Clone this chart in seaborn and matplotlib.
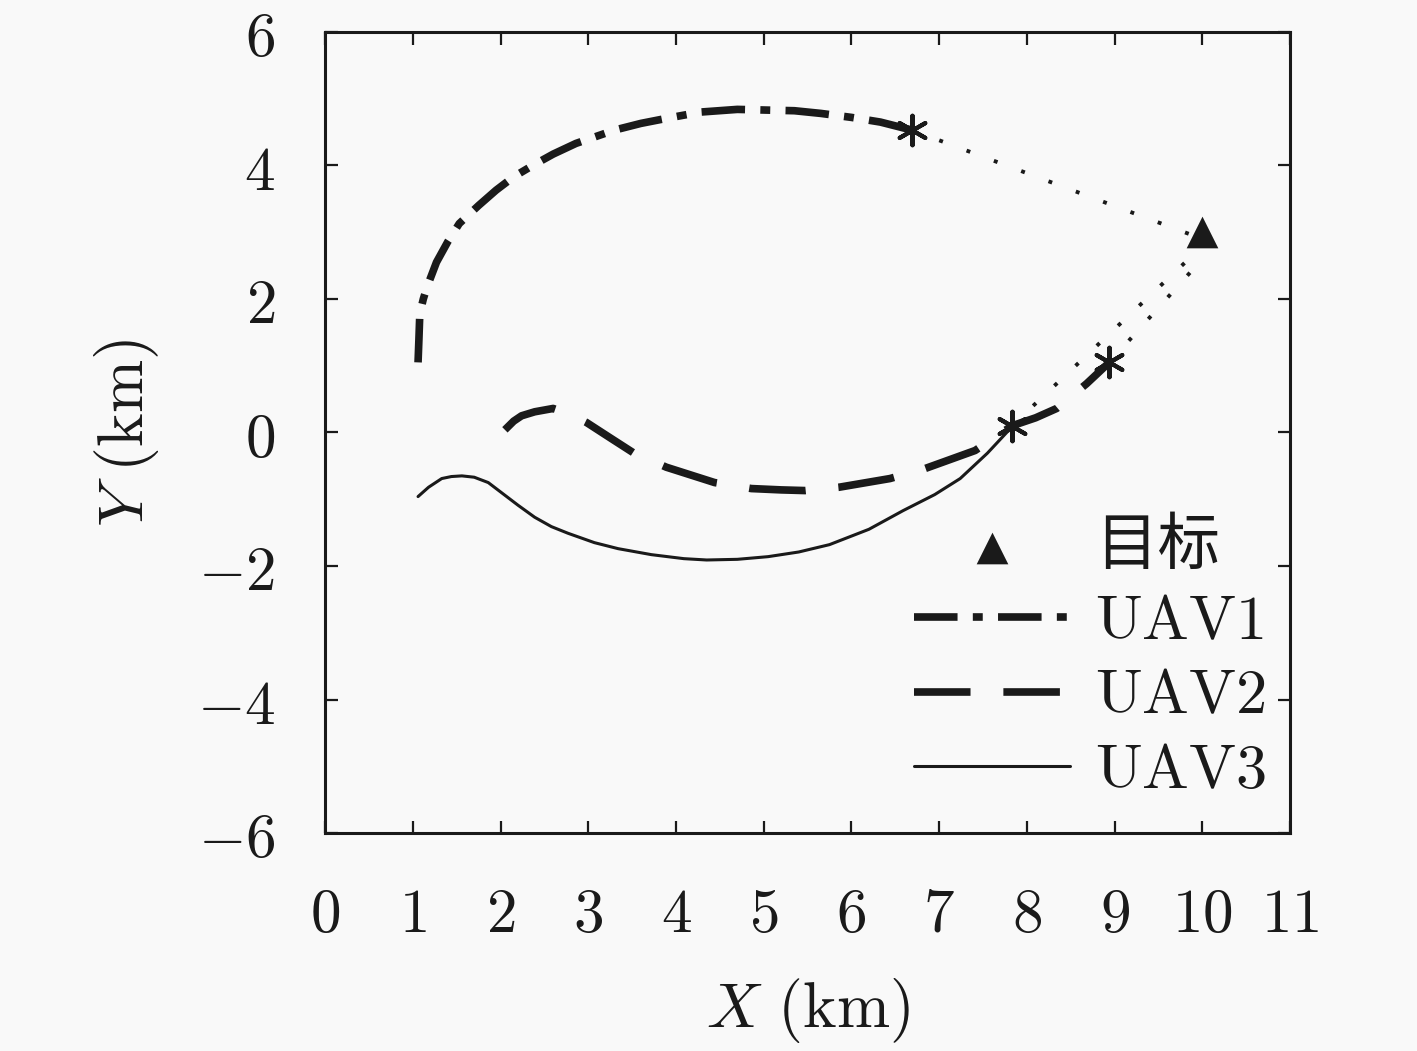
import numpy as np
import pandas as pd
import seaborn as sns
import matplotlib.pyplot as plt

# trajectories (km)
uav1_x = [1.06, 1.07, 1.08, 1.12, 1.16, 1.27, 1.40, 1.53, 1.75, 1.95, 2.15, 2.38, 2.60, 2.86,
          3.30, 3.60, 3.91, 4.28, 4.70, 5.02, 5.35, 5.65, 6.00, 6.33, 6.69]
uav1_y = [1.05, 1.40, 1.78, 2.00, 2.17, 2.55, 2.86, 3.13, 3.40, 3.63, 3.83, 4.01, 4.17, 4.33,
          4.53, 4.63, 4.71, 4.80, 4.84, 4.83, 4.82, 4.78, 4.72, 4.65, 4.53]

uav2_x = [2.05, 2.15, 2.24, 2.39, 2.60, 2.78, 2.98, 3.25, 3.51, 3.89, 4.44, 4.86, 5.20,
          5.47, 5.86, 6.44, 6.84, 7.41, 7.83, 8.10, 8.34, 8.68, 8.94]
uav2_y = [0.04, 0.17, 0.25, 0.31, 0.36, 0.28, 0.15, -0.08, -0.30, -0.52, -0.75, -0.84, -0.86,
          -0.87, -0.82, -0.69, -0.54, -0.27, 0.10, 0.22, 0.36, 0.73, 1.05]

uav3_x = [1.06, 1.18, 1.33, 1.44, 1.56, 1.70, 1.86, 2.01, 2.20, 2.39, 2.58, 2.77, 3.07,
          3.34, 3.72, 4.09, 4.35, 4.70, 5.05, 5.40, 5.75, 6.20, 6.59, 6.95, 7.24, 7.55,
          7.77, 7.83]
uav3_y = [-0.96, -0.82, -0.69, -0.66, -0.65, -0.67, -0.75, -0.90, -1.09, -1.27, -1.41, -1.51,
          -1.65, -1.74, -1.83, -1.89, -1.91, -1.90, -1.86, -1.79, -1.68, -1.45, -1.17, -0.93,
          -0.69, -0.31, 0.00, 0.10]

# end points (asterisks) and where the dotted guidance lines meet the target
end_x = [6.69, 8.94, 7.83]
end_y = [4.53, 1.05, 0.10]
aim_x = [10.0, 10.0, 10.0]
aim_y = [2.90, 2.60, 2.79]

target_x = [10.0]
target_y = [3.0]

xticks = list(range(0, 12))
yticks = [-6, -4, -2, 0, 2, 4, 6]
labels = ['目标', 'UAV1', 'UAV2', 'UAV3']

sns.set_theme(style='ticks')
bg = '#f9f9f9'
plt.rcParams['mathtext.fontset'] = 'cm'
plt.rcParams['font.family'] = ['Noto Sans CJK SC', 'DejaVu Sans']
plt.rcParams['figure.facecolor'] = bg
plt.rcParams['axes.facecolor'] = bg
plt.rcParams['text.color'] = 'k'
plt.rcParams['axes.labelcolor'] = 'k'

fig = plt.figure(figsize=(14.17, 10.51), dpi=100)
ax = fig.add_axes([0.2294, 0.2074, 0.6810, 0.7622])

# dotted guidance segments
for i in range(3):
    seg = pd.DataFrame({'x': [end_x[i], aim_x[i]], 'y': [end_y[i], aim_y[i]]})
    sns.lineplot(data=seg, x='x', y='y', sort=False, estimator=None, ax=ax,
                 color='k', lw=2.8, linestyle=(0, (1, 6.5)))

uav1 = pd.DataFrame({'x': uav1_x, 'y': uav1_y})
uav2 = pd.DataFrame({'x': uav2_x, 'y': uav2_y})
uav3 = pd.DataFrame({'x': uav3_x, 'y': uav3_y})

sns.lineplot(data=uav1, x='x', y='y', sort=False, estimator=None, ax=ax,
             color='k', lw=5.5, linestyle=(0, (5.7, 2.0, 1.3, 2.0)),
             solid_capstyle='butt', dash_capstyle='butt', label=labels[1])
sns.lineplot(data=uav2, x='x', y='y', sort=False, estimator=None, ax=ax,
             color='k', lw=5.5, linestyle=(0, (7.4, 4.3)),
             dash_capstyle='butt', label=labels[2])
sns.lineplot(data=uav3, x='x', y='y', sort=False, estimator=None, ax=ax,
             color='k', lw=2.2, label=labels[3])

sns.scatterplot(x=end_x, y=end_y, marker=(6, 2, 0), s=450, color='k',
                linewidth=3.0, ax=ax, zorder=5)
sns.scatterplot(x=target_x, y=target_y, marker='^', s=520, color='k',
                linewidth=0, ax=ax, zorder=5, label=labels[0])

ax.set_xlim(0, 11)
ax.set_ylim(-6, 6)
ax.set_xticks(xticks, labels=[f'${v}$' for v in xticks])
ax.set_yticks(yticks, labels=[f'${v}$' for v in yticks])
ax.tick_params(direction='in', length=9, width=1.6, labelsize=44, pad=36,
               top=True, right=True, colors='k')
for sp in ax.spines.values():
    sp.set_linewidth(2.2)
    sp.set_color('k')

ax.set_xlabel(r'$X\ (\mathrm{km})$', fontsize=46, labelpad=22)
ax.set_ylabel(r'$Y\ (\mathrm{km})$', fontsize=46, labelpad=26)

handles, labs = ax.get_legend_handles_labels()
order = [labs.index(l) for l in labels]
leg = ax.legend([handles[i] for i in order],
                ['目标', r'$\mathrm{UAV1}$', r'$\mathrm{UAV2}$', r'$\mathrm{UAV3}$'],
                loc='lower right', bbox_to_anchor=(1.021, -0.016), frameon=False,
                fontsize=45, handlelength=2.5, handletextpad=0.4,
                labelspacing=0.17, borderaxespad=0.3)

fig.savefig('out.png', dpi=100, facecolor=bg)
